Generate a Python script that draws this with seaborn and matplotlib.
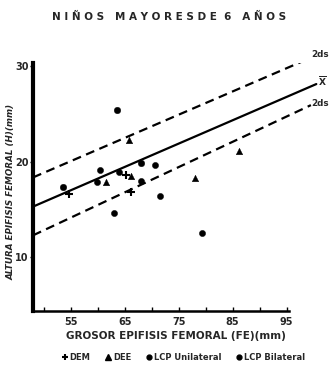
import matplotlib
matplotlib.use("Agg")
import matplotlib.pyplot as plt
import seaborn as sns
import pandas as pd
from matplotlib.lines import Line2D

# ---- data ----
dem_x = [54.7, 65.2, 66.1]
dem_y = [16.6, 18.6, 16.8]
dee_x = [61.6, 66.2, 65.7, 78.0, 86.2]
dee_y = [17.9, 18.5, 22.3, 18.3, 21.1]
lcp_uni_x = [60.4, 59.8, 63.1, 63.9, 68.0, 70.7, 71.5, 79.4]
lcp_uni_y = [19.1, 17.9, 14.6, 18.9, 18.0, 19.6, 16.4, 12.5]
lcp_bi_x = [53.5, 63.5, 68.0]
lcp_bi_y = [17.4, 25.4, 19.9]

line_x = [48, 100.5]
mean_y = [15.3, 28.1]
upper_x = [48, 99.5]
upper_y = [18.35, 30.85]
lower_x = [48, 99.5]
lower_y = [12.3, 25.9]

x_ticks = [55, 65, 75, 85, 95]
x_minor = [50, 60, 70, 80, 90]
y_ticks = [10, 20, 30]

title = "N I Ñ O S   M A Y O R E S D E  6   A Ñ O S"
xlabel = "GROSOR EPIFISIS FEMORAL (FE)(mm)"
ylabel = "ALTURA EPIFISIS FEMORAL (H)(mm)"
groups = ["DEM", "DEE", "LCP Unilateral", "LCP Bilateral"]

df = pd.DataFrame({
    "x": dem_x + dee_x + lcp_uni_x + lcp_bi_x,
    "y": dem_y + dee_y + lcp_uni_y + lcp_bi_y,
    "g": [groups[0]] * len(dem_x) + [groups[1]] * len(dee_x)
         + [groups[2]] * len(lcp_uni_x) + [groups[3]] * len(lcp_bi_x),
})
lines = pd.DataFrame({
    "x": line_x + upper_x + lower_x,
    "y": mean_y + upper_y + lower_y,
    "k": ["mean"] * 2 + ["up"] * 2 + ["low"] * 2,
})

sns.set_theme(style="white")
plt.rcParams["font.family"] = ["DejaVu Sans"]
plt.rcParams["font.weight"] = "bold"

fig = plt.figure(figsize=(3.32, 3.65), dpi=100)
ax = fig.add_axes([33 / 332, 1 - 311 / 365, (319 - 33) / 332, (311 - 63) / 365])

sns.lineplot(data=lines[lines.k == "mean"], x="x", y="y", color="black",
             lw=1.6, ax=ax, legend=False)
for k in ["up", "low"]:
    sns.lineplot(data=lines[lines.k == k], x="x", y="y", color="black",
                 lw=1.6, ax=ax, legend=False, linestyle=(0, (4, 2.5)))

markers = {"DEM": "+", "DEE": "^", "LCP Unilateral": "o", "LCP Bilateral": "o"}
sizes = {"DEM": 28, "DEE": 22, "LCP Unilateral": 20, "LCP Bilateral": 22}
for g in groups:
    sub = df[df.g == g]
    lw = 1.5 if g == "DEM" else 0.3
    sns.scatterplot(data=sub, x="x", y="y", marker=markers[g], color="black",
                    s=sizes[g], edgecolor="black", linewidth=lw, ax=ax,
                    legend=False, zorder=3)

ax.set_xlim(48, 101)
ax.set_ylim(4.4, 30.3)
for s in ["top", "right"]:
    ax.spines[s].set_visible(False)
ax.spines["left"].set_linewidth(3.0)
ax.spines["bottom"].set_linewidth(1.8)
ax.spines["left"].set_color("black")
ax.spines["bottom"].set_color("black")
ax.spines["bottom"].set_bounds(48, 95.5)

ax.set_xticks(x_ticks)
ax.set_xticks(x_minor, minor=True)
ax.set_yticks(y_ticks)
ax.tick_params(axis="x", which="both", direction="in", length=3, width=1,
               color="black", labelsize=7, pad=4, bottom=True)
ax.tick_params(axis="y", direction="out", length=2, width=1, color="black",
               labelsize=7, pad=1, left=True)
for lab in ax.get_xticklabels() + ax.get_yticklabels():
    lab.set_fontweight("bold")

ax.set_xlabel(xlabel, fontsize=7.5, fontweight="bold", labelpad=3)
ax.set_ylabel(ylabel, fontsize=6.3, fontweight="bold", style="italic")
ax.yaxis.set_label_coords(-0.062, 0.48)

ax.text(99.6, 31.2, "2ds", fontsize=6.3, fontweight="bold", clip_on=False, va="center")
ax.text(100.8, 28.4, r"$\overline{\mathbf{X}}$", fontsize=6.5, clip_on=False, va="center")
ax.text(99.6, 26.1, "2ds", fontsize=6.3, fontweight="bold", clip_on=False, va="center")

fig.text(0.51, 1 - 17 / 365, title, ha="center", va="center", fontsize=7.5,
         fontweight="bold")

handles = [
    Line2D([], [], marker="+", color="black", ls="none", markersize=5, mew=1.5),
    Line2D([], [], marker="^", color="black", ls="none", markersize=4.5),
    Line2D([], [], marker="o", color="black", ls="none", markersize=3.5),
    Line2D([], [], marker="o", color="black", ls="none", markersize=3.5),
]
fig.legend(handles, groups, loc="center", bbox_to_anchor=(0.55, 1 - 357 / 365),
           ncol=4, frameon=False, fontsize=6, handletextpad=0.1,
           columnspacing=1.6, handlelength=1.0, borderpad=0, borderaxespad=0)

fig.savefig("out.png", dpi=100, facecolor="white")
